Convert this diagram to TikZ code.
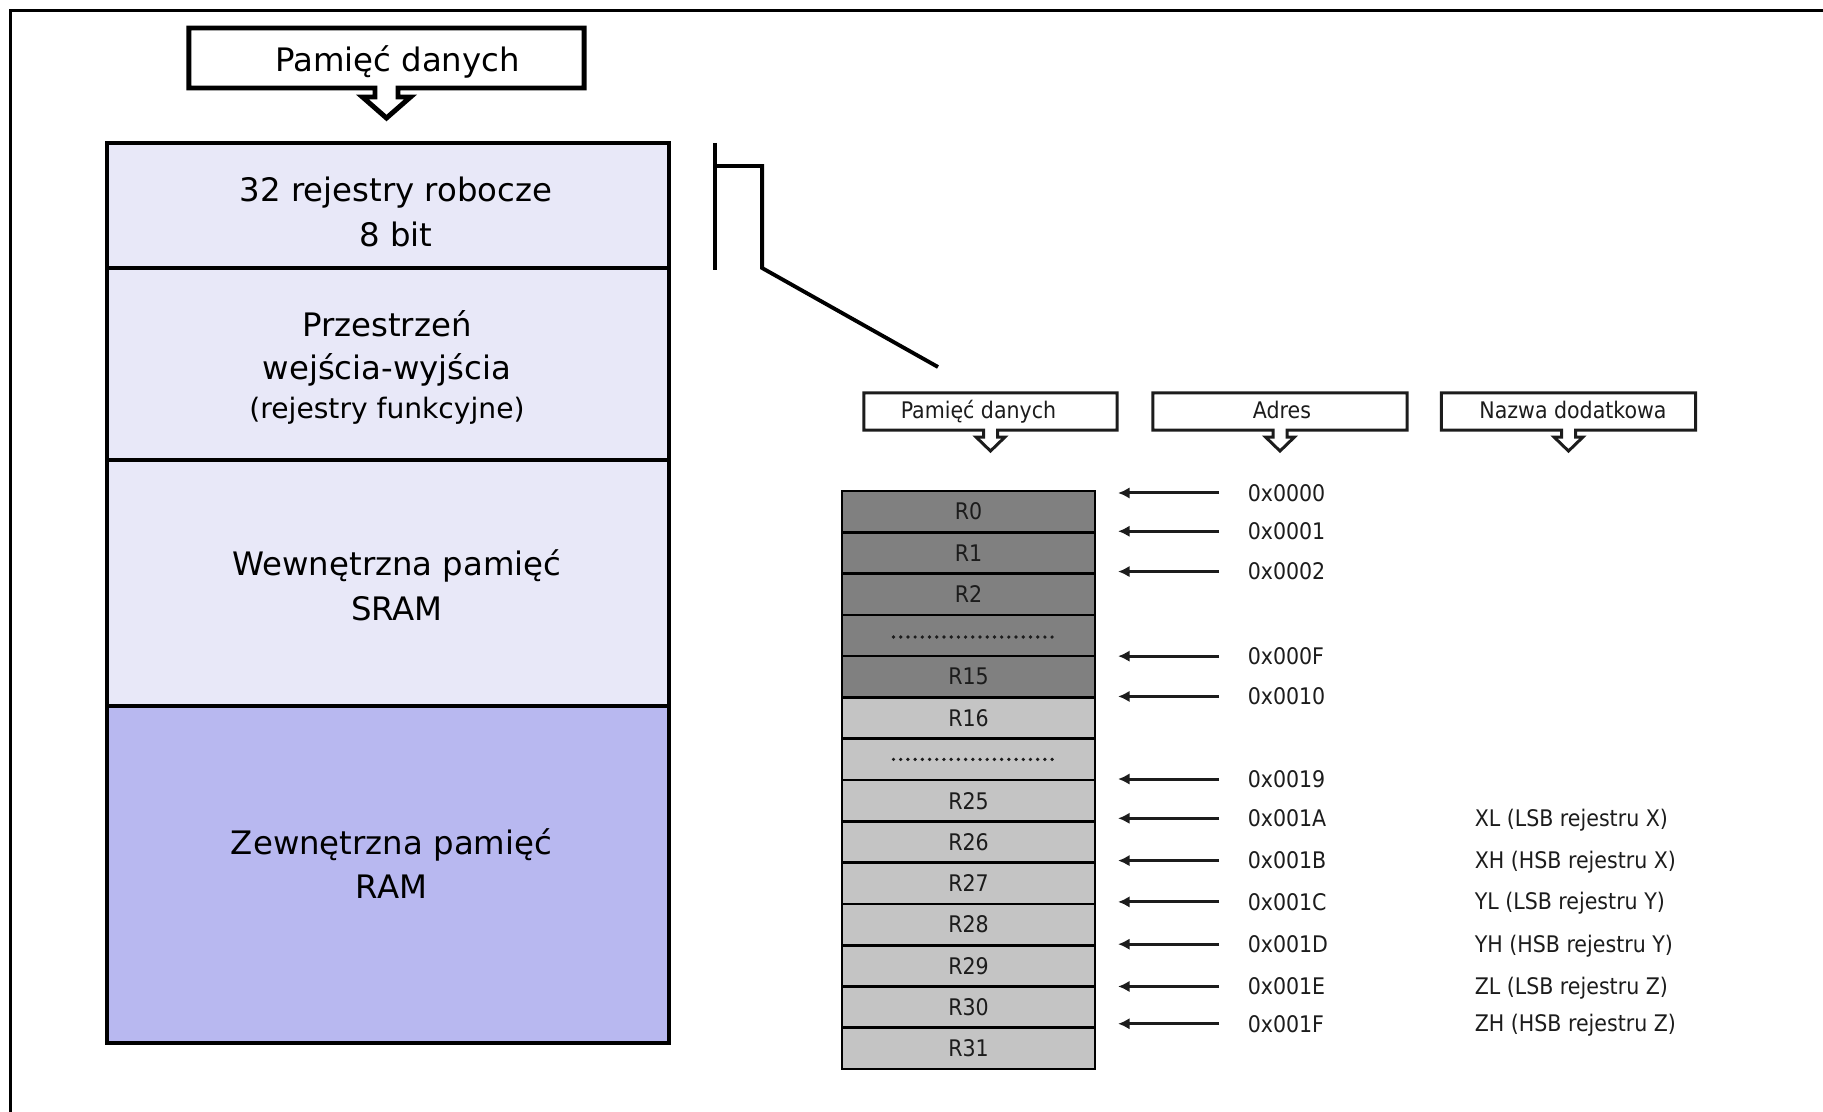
\documentclass[tikz,border=0pt]{standalone}
\usepackage{fontspec}
\setmainfont{DejaVu Sans}
\newfontfamily\condfont{DejaVu Sans Condensed}
\usetikzlibrary{arrows.meta,calc}

\definecolor{lav}{RGB}{232,232,248}
\definecolor{lavdark}{RGB}{184,184,240}
\definecolor{regdark}{RGB}{128,128,128}
\definecolor{reglight}{RGB}{196,196,196}
\definecolor{ink}{RGB}{28,28,28}

% outline of a box with a downward block arrow below its bottom edge
% #1 node, #2 stem half width, #3 head half width, #4 stem length, #5 head length, #6 line width
\newcommand\calloutoutline[6]{%
  \draw[line width=#6, line join=miter]
    ($(#1.south)+(#2,0)$) -- (#1.south east) -- (#1.north east) -- (#1.north west)
    -- (#1.south west) -- ($(#1.south)+(-#2,0)$) -- ++(0,#4) -- ++({#2-#3},0)
    -- ++(#3,#5) -- ++(#3,-#5) -- ++({#2-#3},0) -- cycle;}

\begin{document}
\begin{tikzpicture}[x=0.01cm,y=-0.01cm,
  bigfont/.style={font=\fontsize{9.2}{11}\selectfont},
  midfont/.style={font=\fontsize{8}{10}\selectfont},
  smallfont/.style={font=\condfont\fontsize{6.5}{8}\selectfont, text=ink},
  mem/.style={draw, line width=1.3pt, inner sep=0pt, outer sep=0pt, minimum width=5.62cm},
  callbox/.style={inner sep=0pt, outer sep=0pt},
  reg/.style={draw, line width=0.75pt, inner sep=0pt, outer sep=0pt,
    minimum width=2.53cm, minimum height=0.4129cm, smallfont},
  addrarrow/.style={line width=0.85pt, -{Latex[length=3.3pt,width=3.3pt]}},
  bracket/.style={line width=1.1pt, line join=miter},
  dotrow/.style={line width=1.05pt, line cap=round, dash pattern=on 0pt off 2.05pt},
]
\useasboundingbox (0,0) rectangle (1823,1112);

% page frame (top and left edges)
\draw[line width=1.1pt] (10.5,1112) -- (10.5,10.5) -- (1823,10.5);

% ---------- data memory map ----------
\node[callbox, minimum width=3.95cm, minimum height=0.6cm] (c0) at (386.5,58) {};
\calloutoutline{c0}{11.5}{24}{9}{21}{1.4pt}
\node[bigfont, anchor=base] (c0t) at (397.5,71.5) {Pamięć danych};

\node[mem, fill=lav, minimum height=1.25cm] (m1) at (388,205.5) {};
\node[mem, fill=lav, minimum height=1.92cm] (m2) at (388,364) {};
\node[mem, fill=lav, minimum height=2.46cm] (m3) at (388,583) {};
\node[mem, fill=lavdark, minimum height=3.37cm] (m4) at (388,874.5) {};

\node[bigfont, anchor=base] (t1a) at (396,201) {32 rejestry robocze};
\node[bigfont, anchor=base] (t1b) at (396,246) {8 bit};
\node[bigfont, anchor=base] (t2a) at (387,336) {Przestrzeń};
\node[bigfont, anchor=base] (t2b) at (387,379) {wejścia-wyjścia};
\node[midfont, anchor=base] (t2c) at (387,418) {(rejestry funkcyjne)};
\node[bigfont, anchor=base] (t3a) at (397,575) {Wewnętrzna pamięć};
\node[bigfont, anchor=base] (t3b) at (397,620) {SRAM};
\node[bigfont, anchor=base] (t4a) at (391.5,854) {Zewnętrzna pamięć};
\node[bigfont, anchor=base] (t4b) at (391.5,898) {RAM};

% bracket on the register block leading to the detail view
\coordinate (bA) at ($(m1.north east)+(46,0)$);
\coordinate (bB) at ($(m1.south east)+(46,2)$);
\coordinate (bC) at ($(m1.north east)+(46,23)$);
\coordinate (bD) at ($(m1.north east)+(93,23)$);
\coordinate (bE) at ($(m1.south east)+(93,0)$);
\coordinate (bF) at (938,367);
\draw[bracket] (bA) -- (bB);
\draw[bracket] (bC) -- (bD) -- (bE) -- (bF);

% ---------- register file detail ----------
\node[callbox, minimum width=2.53cm, minimum height=0.37cm] (c1) at (990.5,411.5) {};
\node[callbox, minimum width=2.54cm, minimum height=0.37cm] (c2) at (1280,411.5) {};
\node[callbox, minimum width=2.54cm, minimum height=0.37cm] (c3) at (1568.5,411.5) {};
\begin{scope}[ink]
\calloutoutline{c1}{7}{14.5}{7}{14}{0.85pt}
\calloutoutline{c2}{7}{14.5}{7}{14}{0.85pt}
\calloutoutline{c3}{7}{14.5}{7}{14}{0.85pt}
\end{scope}
\node[smallfont, anchor=base] (c1t) at (978.5,418) {Pamięć danych};
\node[smallfont, anchor=base] (c2t) at (1282,418) {Adres};
\node[smallfont, anchor=base] (c3t) at (1573,418) {Nazwa dodatkowa};

\foreach \i/\lab/\col in {0/R0/regdark, 1/R1/regdark, 2/R2/regdark, 3//regdark,
    4/R15/regdark, 5/R16/reglight, 6//reglight, 7/R25/reglight, 8/R26/reglight,
    9/R27/reglight, 10/R28/reglight, 11/R29/reglight, 12/R30/reglight, 13/R31/reglight}
  \node[reg, fill=\col] (reg\i) at (968.5,{491+41.29*(\i+0.5)}) {\lab};

\draw[dotrow, ink] ($(reg3.center)+(-75,1.5)$) -- ($(reg3.center)+(85,1.5)$);
\draw[dotrow, ink] ($(reg6.center)+(-75,0)$) -- ($(reg6.center)+(85,0)$);

% address pointers, each aimed at the upper edge of its register
\foreach \r/\txt/\dy in {0/0x0000/2, 1/0x0001/-1, 2/0x0002/-2, 4/0x000F/0, 5/0x0010/-1,
    7/0x0019/-1, 8/0x001A/-3, 9/0x001B/-2, 10/0x001C/-2, 11/0x001D/-1, 12/0x001E/0,
    13/0x001F/-4} {
  \coordinate (tip\r) at ($(reg\r.north east)+(23,\dy)$);
  \node[smallfont, anchor=west, inner sep=0pt] (ad\r) at ($(tip\r)+(129,0)$) {\txt};
  \draw[addrarrow, ink] ($(ad\r.west)+(-28,0)$) -- (tip\r);
}

\foreach \r/\txt in {8/XL (LSB rejestru X), 9/XH (HSB rejestru X), 10/YL (LSB rejestru Y),
    11/YH (HSB rejestru Y), 12/ZL (LSB rejestru Z), 13/ZH (HSB rejestru Z)}
  \node[smallfont, anchor=base west, inner sep=0pt] (nm\r) at ($(ad\r.west)+(227,8)$) {\txt};

\end{tikzpicture}
\end{document}
